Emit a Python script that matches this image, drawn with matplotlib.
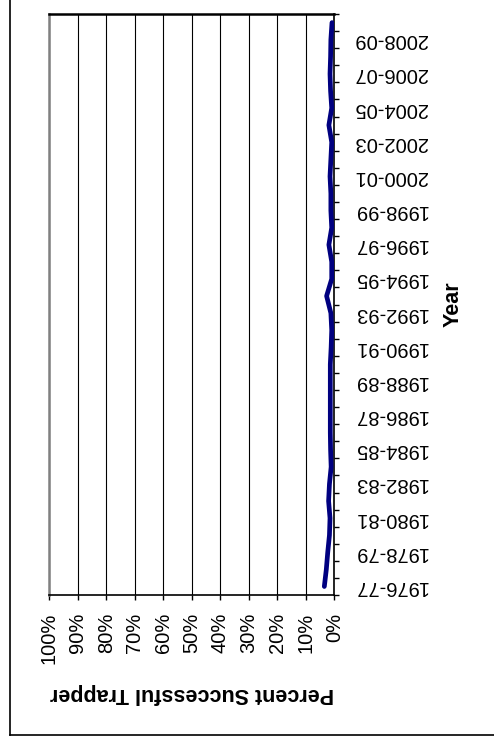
import numpy as np
import matplotlib
matplotlib.use('Agg')
import matplotlib.pyplot as plt
from matplotlib.lines import Line2D

# trapping seasons (category axis), one per season
seasons = ['1976-77', '1977-78', '1978-79', '1979-80', '1980-81', '1981-82',
           '1982-83', '1983-84', '1984-85', '1985-86', '1986-87', '1987-88',
           '1988-89', '1989-90', '1990-91', '1991-92', '1992-93', '1993-94',
           '1994-95', '1995-96', '1996-97', '1997-98', '1998-99', '1999-00',
           '2000-01', '2001-02', '2002-03', '2003-04', '2004-05', '2005-06',
           '2006-07', '2007-08', '2008-09', '2009-10']

# percent successful trapper
percent_successful = [3.5, 2.8, 2.3, 1.7, 1.5, 2.0, 1.7, 1.1, 1.3, 1.4, 1.4, 1.4,
                      1.4, 1.4, 1.1, 0.9, 1.2, 2.7, 0.9, 0.9, 1.9, 0.9, 1.2, 1.2,
                      1.5, 1.2, 0.9, 1.9, 0.9, 1.3, 1.5, 1.3, 1.2, 0.8]

pct_ticks = [0, 10, 20, 30, 40, 50, 60, 70, 80, 90, 100]
pct_labels = ['0%', '10%', '20%', '30%', '40%', '50%', '60%', '70%', '80%', '90%', '100%']


def main():
    plt.rcParams['font.family'] = ['Liberation Sans', 'DejaVu Sans']

    fig = plt.figure(figsize=(4.94, 7.40), dpi=100)
    ax = fig.add_axes([0.1002, 0.1959, 0.5765, 0.7851])

    y = np.arange(len(seasons))
    ax.plot(percent_successful, y, color='#000080', lw=3.4,
            solid_joinstyle='round', solid_capstyle='round', zorder=3)

    # value axis (percent), 100% on the left
    ax.set_xlim(100, 0)
    ax.set_xticks(pct_ticks)
    ax.set_xticklabels(pct_labels, rotation=90, fontsize=14.5, va='top')
    ax.tick_params(axis='x', direction='out', length=3.6, width=1, pad=9)
    ax.grid(axis='x', color='black', lw=0.8, zorder=1)
    ax.set_axisbelow(True)

    # category axis on the right, text upside down
    ax.set_ylim(-0.5, len(seasons) - 0.5)
    ax.yaxis.tick_right()
    ax.set_yticks(np.arange(-0.5, len(seasons)))
    ax.yaxis.set_major_formatter(plt.NullFormatter())
    ax.set_yticks(y[::2], minor=True)
    ax.set_yticklabels(seasons[::2], minor=True, rotation=180, fontsize=14.5, va='center')
    ax.tick_params(axis='y', which='major', direction='out', length=3.6, width=1)
    ax.tick_params(axis='y', which='minor', length=0, pad=14)

    # frame
    ax.spines['left'].set_color('#808080')
    ax.spines['left'].set_linewidth(1.8)
    ax.spines['top'].set_linewidth(1.8)
    ax.spines['right'].set_linewidth(1.2)
    ax.spines['bottom'].set_linewidth(1.2)

    ax.set_xlabel('Percent Successful Trapper', fontsize=15.5, fontweight='bold',
                  rotation=180, va='center')
    ax.xaxis.set_label_coords(0.5, -0.169)
    ax.set_ylabel('Year', fontsize=15.5, fontweight='bold', rotation=90, va='center')
    ax.yaxis.set_label_coords(1.417, 0.5)

    # outer chart border (only left and bottom edges are in the picture)
    fig.add_artist(Line2D([9.5 / 494, 9.5 / 494], [5.5 / 740, 1.0], color='black', lw=1.2))
    fig.add_artist(Line2D([9.5 / 494, 1.0], [5.5 / 740, 5.5 / 740], color='black', lw=1.2))

    fig.savefig('out.png', dpi=100)


if __name__ == '__main__':
    main()
